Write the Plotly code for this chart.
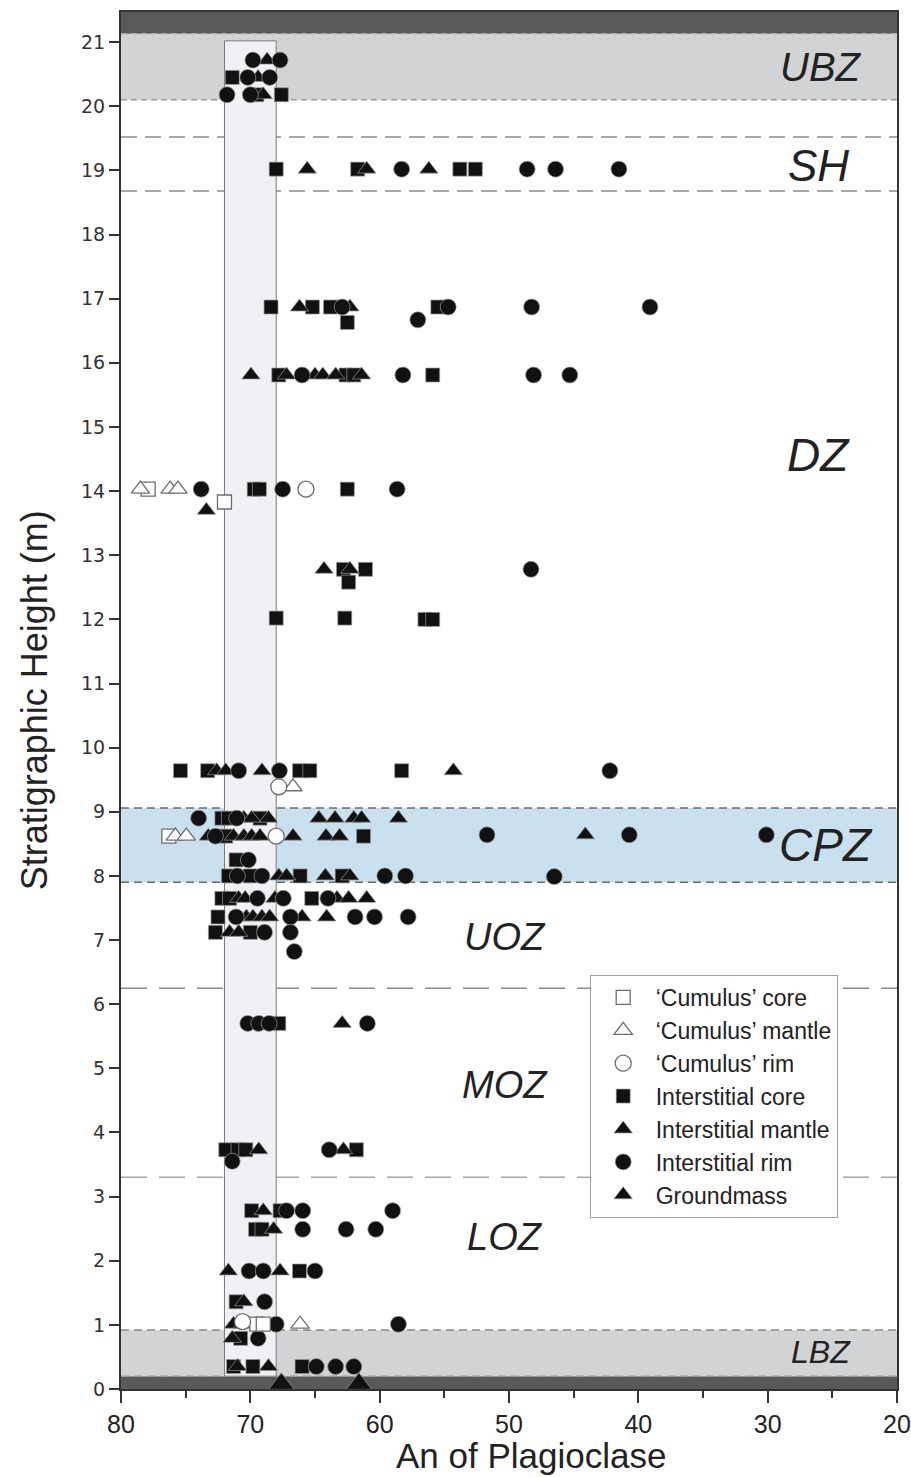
import plotly.graph_objects as go

# ---------------- data (An of plagioclase, stratigraphic height in m) ----------------
cum_core_an = [77.9, 72.0, 76.3, 69.5, 69.0]
cum_core_h = [14.03, 13.83, 8.62, 1.01, 1.01]

cum_mantle_an = [78.5, 76.2, 75.6, 66.7, 75.8, 74.95, 66.15]
cum_mantle_h = [14.03, 14.03, 14.03, 9.39, 8.62, 8.62, 1.01]

cum_rim_an = [65.7, 67.8, 68.0, 70.6]
cum_rim_h = [14.03, 9.39, 8.62, 1.05]

int_core_an = [71.4, 69.5, 67.6,
               68.0, 61.7, 53.8, 52.6,
               68.4, 65.2, 63.8, 62.5, 55.5,
               67.8, 62.6, 62.0, 55.9,
               69.7, 69.3, 62.5,
               62.8, 61.1, 62.4,
               68.0, 62.7, 56.5, 55.9,
               75.4, 73.3, 66.2, 65.4, 58.3,
               72.2, 71.7, 69.25,
               71.9, 61.25,
               71.1,
               71.7, 70.0, 66.15, 62.9,
               72.2, 71.6, 65.25,
               72.5,
               72.7, 70.0,
               67.8,
               71.9, 70.95, 70.35, 61.8,
               69.9, 67.7,
               69.6, 69.1,
               66.2,
               71.1,
               70.75,
               71.3, 69.8, 66.0]
int_core_h = [20.45, 20.18, 20.18,
              19.02, 19.02, 19.02, 19.02,
              16.87, 16.87, 16.87, 16.63, 16.87,
              15.81, 15.81, 15.81, 15.81,
              14.03, 14.03, 14.03,
              12.78, 12.78, 12.58,
              12.02, 12.02, 12.0, 12.0,
              9.64, 9.64, 9.64, 9.64, 9.64,
              8.90, 8.90, 8.90,
              8.62, 8.62,
              8.25,
              8.0, 8.0, 8.0, 8.0,
              7.65, 7.65, 7.65,
              7.36,
              7.12, 7.12,
              5.70,
              3.73, 3.73, 3.73, 3.73,
              2.78, 2.78,
              2.49, 2.49,
              1.84,
              1.36,
              0.79,
              0.35, 0.35, 0.35]

int_mantle_an = [68.7, 69.4, 69.0,
                 65.6, 61.0, 56.2,
                 66.2, 62.3,
                 69.95, 67.2, 65.0, 64.4, 63.4, 61.4,
                 73.4,
                 64.3, 62.3,
                 72.6, 71.9, 69.1, 54.3,
                 70.5, 69.9, 68.6, 64.7, 63.45, 62.0, 61.4, 58.55,
                 73.25, 71.3, 70.5, 69.9, 69.25, 66.7, 64.15, 63.1, 44.1,
                 67.8, 67.2, 64.2, 62.3,
                 70.9, 70.4, 68.1, 63.3, 62.4, 61.0,
                 70.3, 69.8, 69.1, 68.5, 66.0, 64.1,
                 71.6, 70.9,
                 62.9,
                 69.35, 62.8,
                 69.0,
                 68.2,
                 71.7, 67.7,
                 70.5,
                 71.3, 70.6,
                 71.4,
                 71.0, 68.6]
int_mantle_h = [20.72, 20.45, 20.18,
                19.02, 19.02, 19.02,
                16.87, 16.87,
                15.81, 15.81, 15.81, 15.81, 15.81, 15.81,
                13.70,
                12.78, 12.78,
                9.64, 9.64, 9.64, 9.64,
                8.90, 8.90, 8.90, 8.90, 8.90, 8.90, 8.90, 8.90,
                8.62, 8.62, 8.62, 8.62, 8.62, 8.62, 8.62, 8.62, 8.64,
                8.0, 8.0, 8.0, 8.0,
                7.65, 7.65, 7.65, 7.65, 7.65, 7.65,
                7.36, 7.36, 7.36, 7.36, 7.36, 7.36,
                7.12, 7.12,
                5.70,
                3.73, 3.73,
                2.78,
                2.49,
                1.84, 1.84,
                1.36,
                1.01, 1.01,
                0.79,
                0.35, 0.35]

int_rim_an = [69.8, 67.7, 70.2, 68.5, 71.8, 70.0,
              58.3, 48.6, 46.4, 41.5,
              62.9, 57.05, 54.7, 48.25, 39.1,
              66.0, 58.2, 48.1, 45.3,
              73.8, 67.5, 58.65,
              48.3,
              70.9, 67.75, 42.2,
              74.0, 71.05,
              72.7, 51.7, 40.7, 30.1,
              70.15,
              71.0, 69.1, 59.6, 58.0, 46.5,
              69.45, 67.45, 64.0,
              71.1, 66.9, 61.9, 60.4, 57.8,
              68.9, 66.9,
              66.6,
              70.2, 69.35, 68.55, 60.95,
              71.4, 63.9,
              67.2, 65.95, 59.0,
              65.95, 62.6, 60.3,
              70.1, 69.0, 65.0,
              68.9,
              68.0, 58.55,
              69.4,
              64.9, 63.4, 62.0]
int_rim_h = [20.72, 20.72, 20.45, 20.45, 20.18, 20.18,
             19.02, 19.02, 19.02, 19.02,
             16.87, 16.67, 16.87, 16.87, 16.87,
             15.81, 15.81, 15.81, 15.81,
             14.03, 14.03, 14.03,
             12.78,
             9.64, 9.64, 9.64,
             8.90, 8.90,
             8.62, 8.64, 8.64, 8.64,
             8.25,
             8.0, 8.0, 8.0, 8.0, 7.99,
             7.65, 7.65, 7.65,
             7.36, 7.36, 7.36, 7.36, 7.36,
             7.12, 7.12,
             6.82,
             5.70, 5.70, 5.70, 5.70,
             3.55, 3.73,
             2.78, 2.78, 2.78,
             2.49, 2.49, 2.49,
             1.84, 1.84, 1.84,
             1.36,
             1.01, 1.01,
             0.79,
             0.35, 0.35, 0.35]

groundmass_an = [67.6, 61.6]
groundmass_h = [0.08, 0.08]

zone_names = ["UBZ", "SH", "DZ", "CPZ", "UOZ", "MOZ", "LOZ", "LBZ"]
zone_label_an = [25.9, 26.1, 26.1, 25.5, 50.3, 50.3, 50.3, 25.9]
zone_label_h = [20.61, 19.08, 14.56, 8.48, 7.05, 4.74, 2.37, 0.58]
zone_label_size = [40, 44, 46, 46, 38, 38, 38, 32]

x_ticks = [80, 70, 60, 50, 40, 30, 20]
y_ticks = list(range(0, 22))

# ---------------- figure ----------------
fig = go.Figure()
FILL = "#111111"
EDGE = "#9a9a9a"
OPEN_EDGE = "#6e6e6e"
FONT = "Liberation Sans, Arial, sans-serif"


def add(name, xs, ys, symbol, size, color, line_color, line_w, rank):
    fig.add_trace(go.Scatter(
        x=xs, y=ys, mode="markers", name=name, legendrank=rank,
        marker=dict(symbol=symbol, size=size, color=color,
                    line=dict(color=line_color, width=line_w)),
        hoverinfo="x+y+name"))


add("Interstitial core", int_core_an, int_core_h, "square", 14, FILL, EDGE, 0.7, 4)
add("Interstitial mantle", int_mantle_an, int_mantle_h, "triangle-up", 16, FILL, EDGE, 0.7, 5)
add("Interstitial rim", int_rim_an, int_rim_h, "circle", 16, FILL, EDGE, 0.7, 6)
add("Groundmass", groundmass_an, groundmass_h, "triangle-up", 22, FILL, EDGE, 0.7, 7)
add("\u2018Cumulus\u2019 core", cum_core_an, cum_core_h, "square", 14, "white", OPEN_EDGE, 1.3, 1)
add("\u2018Cumulus\u2019 mantle", cum_mantle_an, cum_mantle_h, "triangle-up", 16, "white", OPEN_EDGE, 1.3, 2)
add("\u2018Cumulus\u2019 rim", cum_rim_an, cum_rim_h, "circle", 16, "white", OPEN_EDGE, 1.3, 3)

Y_TOP = 21.47

# horizontal bands
for y0, y1, col in [(0, 0.2, "#58595b"), (0.2, 0.92, "#d1d3d4"), (7.9, 9.06, "#c9e1ee"),
                    (20.1, 21.13, "#d1d3d4"), (21.13, Y_TOP, "#58595b")]:
    fig.add_shape(type="rect", xref="paper", yref="y", x0=0, x1=1, y0=y0, y1=y1,
                  fillcolor=col, line_width=0, layer="below")

# vertical reference column
fig.add_shape(type="rect", xref="x", yref="y", x0=72, x1=68, y0=0.2, y1=21.02,
              fillcolor="#eff1f4", line=dict(color="#7a7a7a", width=1), layer="below")

# boundary lines
for yv, col, dash in [(21.13, "#b0b0b0", "6px,4px"), (20.1, "#9a9a9a", "6px,4px"),
                      (19.52, "#8a8a8a", "16px,8px"), (18.68, "#8a8a8a", "16px,8px"),
                      (9.06, "#6a6a6a", "8px,5px"), (7.9, "#6a6a6a", "8px,5px"),
                      (6.25, "#8a8a8a", "26px,12px"), (3.3, "#a8a8a8", "26px,12px"),
                      (0.92, "#8a8a8a", "8px,5px"), (0.2, "#9a9a9a", "8px,5px")]:
    fig.add_shape(type="line", xref="paper", yref="y", x0=0, x1=1, y0=yv, y1=yv,
                  line=dict(color=col, width=1.5, dash=dash), layer="below")

# zone labels
for name, xa, ya, sz in zip(zone_names, zone_label_an, zone_label_h, zone_label_size):
    fig.add_annotation(x=xa, y=ya, xref="x", yref="y", text=name, showarrow=False,
                       font=dict(family=FONT, size=sz, color="#222222", style="italic"),
                       xanchor="center", yanchor="middle")

# axis titles
fig.add_annotation(x=0.528, y=-0.048, xref="paper", yref="paper", text="An of Plagioclase",
                   showarrow=False, xanchor="center", yanchor="middle",
                   font=dict(family=FONT, size=35, color="#222"))
fig.add_annotation(x=-0.111, y=0.5, xref="paper", yref="paper", text="Stratigraphic Height (m)",
                   showarrow=False, xanchor="center", yanchor="middle", textangle=-90,
                   font=dict(family=FONT, size=36, color="#222"))

fig.update_layout(
    width=911, height=1477,
    margin=dict(l=121, r=14, t=12, b=88, autoexpand=False),
    paper_bgcolor="white", plot_bgcolor="white",
    showlegend=True,
    legend=dict(x=0.604, y=0.3007, xanchor="left", yanchor="top",
                bgcolor="white", bordercolor="#a0a0a0", borderwidth=1,
                font=dict(family=FONT, size=23, color="#222"),
                itemwidth=55, tracegroupgap=0),
    xaxis=dict(range=[80, 20], tickvals=x_ticks, ticks="outside", ticklen=12, tickwidth=1.5,
               tickcolor="#333", showgrid=False, zeroline=False, ticklabeloverflow="allow",
               automargin=False,
               showline=True, mirror=True, linecolor="#333", linewidth=2,
               tickfont=dict(family=FONT, size=25, color="#222"),
               minor=dict(dtick=5, tick0=20, ticks="outside", ticklen=7, tickwidth=1.5,
                          tickcolor="#333")),
    yaxis=dict(range=[0, Y_TOP], tickvals=y_ticks, ticks="outside", ticklen=10, tickwidth=1.5,
               tickcolor="#333", showgrid=False, zeroline=False, automargin=False,
               showline=True, mirror=True, linecolor="#333", linewidth=2,
               tickfont=dict(family="DejaVu Sans, sans-serif", size=19, color="#333")),
)

fig.write_html("out.html", config={"displayModeBar": False},
               post_script="document.body.style.margin='0px';document.body.style.padding='0px';")
